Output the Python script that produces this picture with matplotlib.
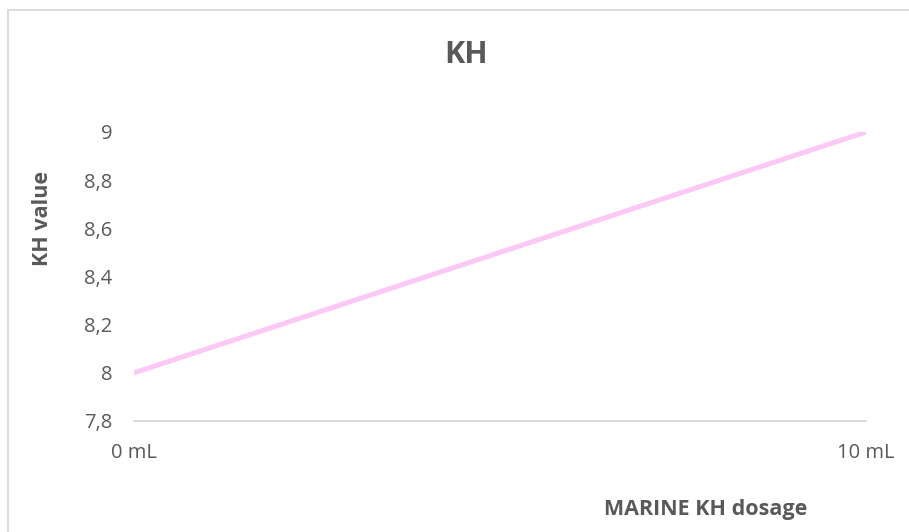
import matplotlib
matplotlib.use("Agg")
import matplotlib.pyplot as plt
from matplotlib.patches import Rectangle

# Data
dosage_ml = [0, 10]
kh_values = [8.0, 9.0]
x_tick_labels = ["0 mL", "10 mL"]
y_ticks = [7.8, 8.0, 8.2, 8.4, 8.6, 8.8, 9.0]
y_tick_labels = ["7,8", "8", "8,2", "8,4", "8,6", "8,8", "9"]
title = "KH"
x_label = "MARINE KH dosage"
y_label = "KH value"

W, H = 909, 532
plt.rcParams['font.family'] = ['Open Sans', 'DejaVu Sans']
fig = plt.figure(figsize=(W / 100, H / 100), dpi=100)
TXT = "#595959"

# outer chart border
fig.patches.append(Rectangle((8 / W, -0.1), 1.2, 1 - 10 / H + 0.1, transform=fig.transFigure,
                             fill=False, edgecolor="#D9D9D9", linewidth=1.3, clip_on=False))

ax = fig.add_axes([134 / W, 1 - 421 / H, (866 - 134) / W, (421 - 132) / H])
ax.plot(dosage_ml, kh_values, color="#FCC8F6", linewidth=3.6, solid_capstyle="round")
ax.set_xlim(0, 10)
ax.set_ylim(7.8, 9.0)
ax.set_xticks(dosage_ml)
ax.set_xticklabels(x_tick_labels)
ax.set_yticks(y_ticks)
ax.set_yticklabels(y_tick_labels)
for s in ["top", "right", "left"]:
    ax.spines[s].set_visible(False)
ax.spines["bottom"].set_color("#D9D9D9")
ax.spines["bottom"].set_linewidth(1.3)
ax.tick_params(axis="both", length=0, labelsize=14.5, labelcolor=TXT)
ax.tick_params(axis="y", pad=15.5)
ax.tick_params(axis="x", pad=16)

fig.text(466 / W, 1 - 55 / H, title, ha="center", va="center", fontsize=22,
         fontweight="bold", color=TXT)
fig.text(42 / W, 1 - 218 / H, y_label, ha="center", va="center", rotation=90,
         fontsize=15.5, fontweight="bold", color=TXT)
fig.text(706 / W, 1 - 510 / H, x_label, ha="center", va="center",
         fontsize=15.5, fontweight="bold", color=TXT)

fig.savefig("out.png", dpi=100, facecolor="white")
